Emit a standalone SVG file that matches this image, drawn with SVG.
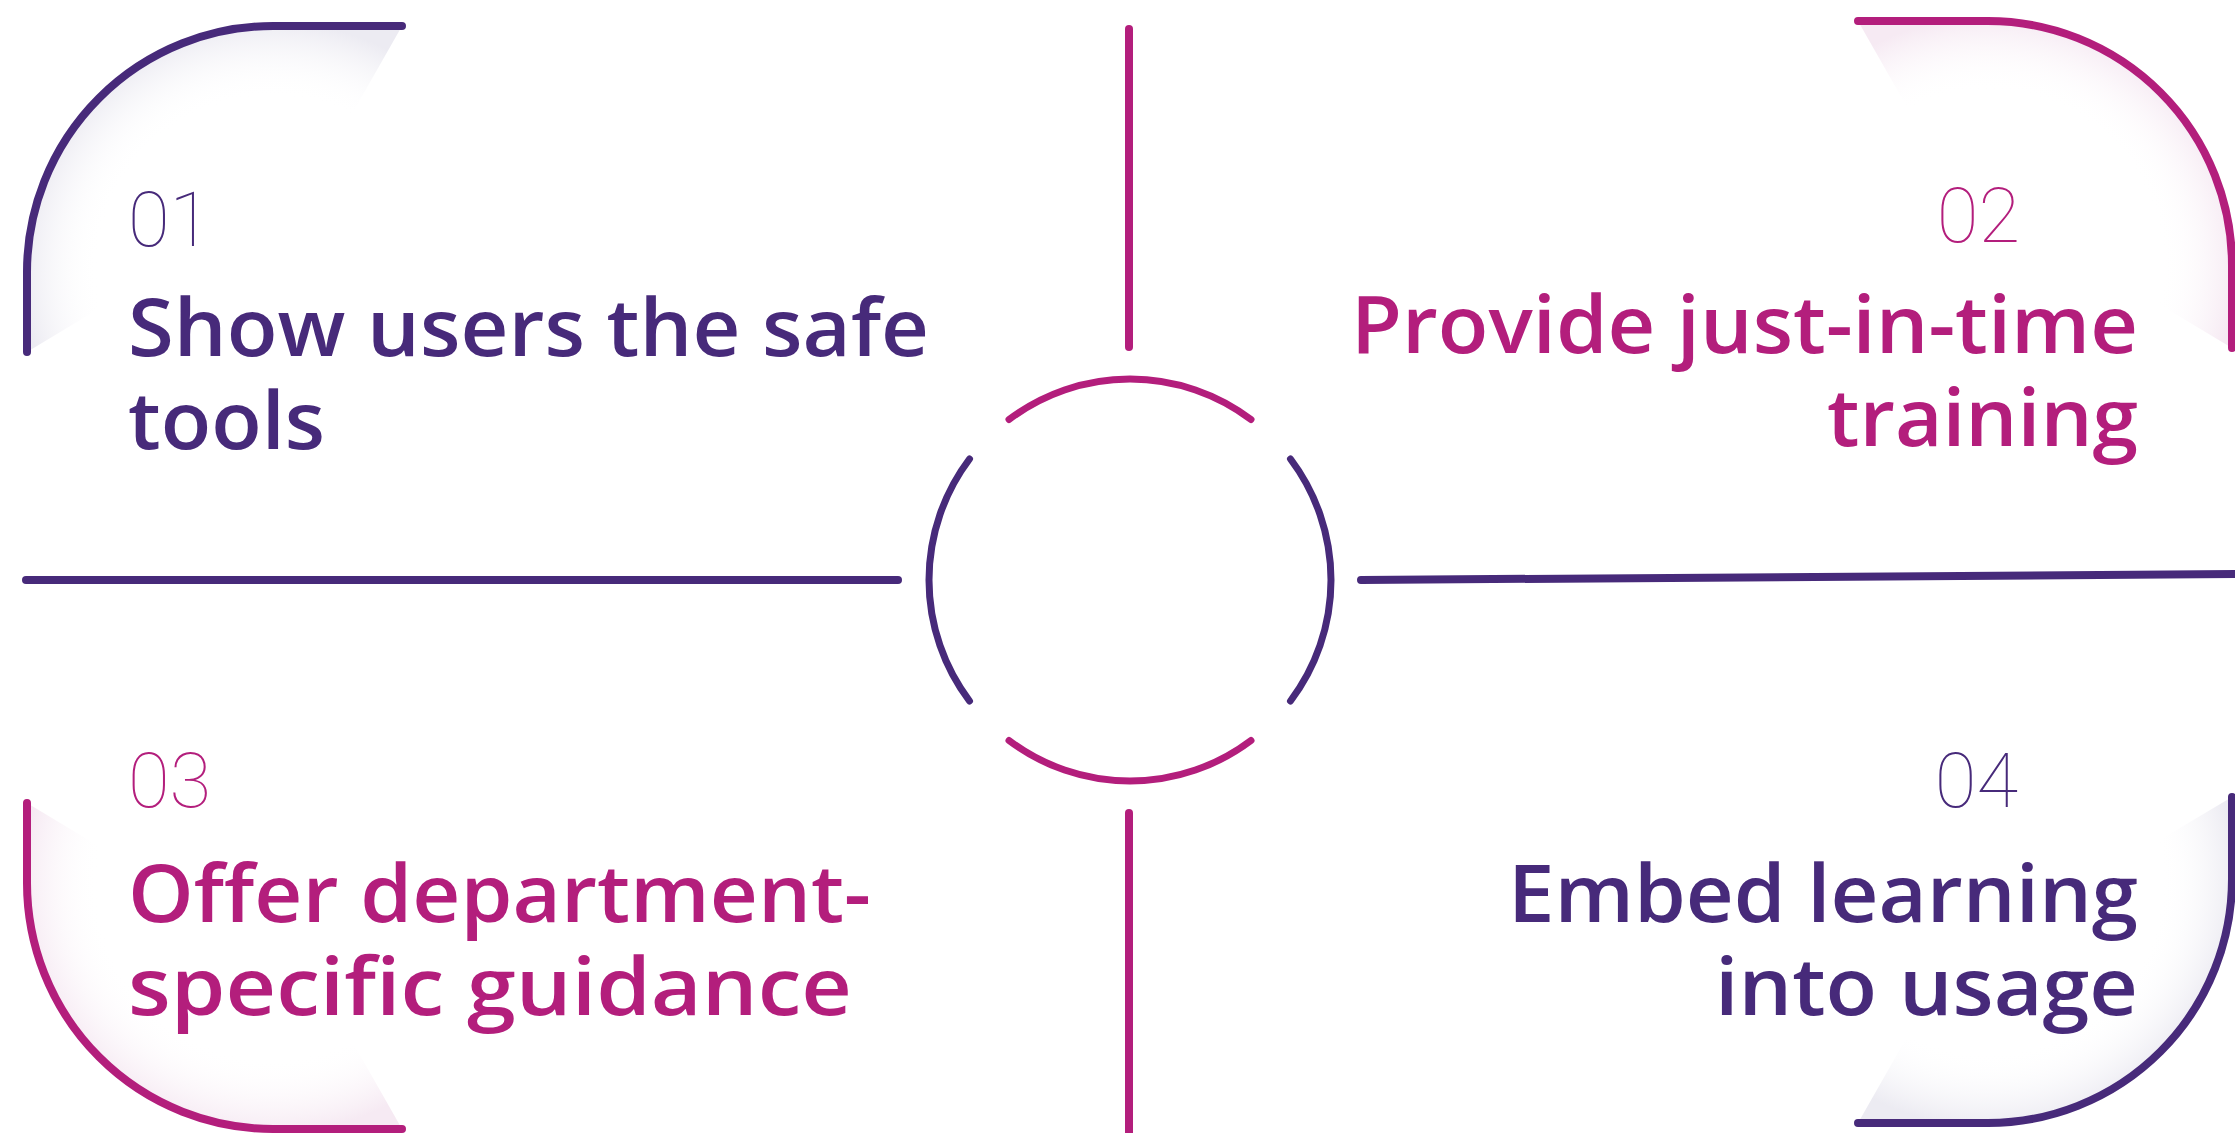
<svg xmlns="http://www.w3.org/2000/svg" width="2235" height="1133" viewBox="0 0 2235 1133">
  <style>
    .purple { stroke: #472a7a; }
    .magenta { stroke: #b31e7c; }
    .ln { fill: none; stroke-width: 8; stroke-linecap: round; }
    .arc { fill: none; stroke-width: 7; stroke-linecap: round; }
    .num { font-family: Roboto, Lato, "Open Sans", sans-serif; font-weight: 100; font-size: 76px; }
    .label { font-family: "Open Sans", "Liberation Sans", sans-serif; font-weight: 600; font-size: 79px; }
    .tp { fill: #472a7a; }
    .tm { fill: #b31e7c; }
  </style>
  <defs>
    <radialGradient id="gTL" gradientUnits="userSpaceOnUse" cx="273" cy="272" r="250">
      <stop offset="0" stop-color="#ffffff" stop-opacity="0"/>
      <stop offset="0.7" stop-color="#ffffff" stop-opacity="0"/>
      <stop offset="1" stop-color="#ecebf2" stop-opacity="1"/>
    </radialGradient>
    <radialGradient id="gTR" gradientUnits="userSpaceOnUse" cx="1988" cy="265" r="248">
      <stop offset="0" stop-color="#ffffff" stop-opacity="0"/>
      <stop offset="0.7" stop-color="#ffffff" stop-opacity="0"/>
      <stop offset="1" stop-color="#f6eaf3" stop-opacity="1"/>
    </radialGradient>
    <radialGradient id="gBL" gradientUnits="userSpaceOnUse" cx="273" cy="883" r="250">
      <stop offset="0" stop-color="#ffffff" stop-opacity="0"/>
      <stop offset="0.7" stop-color="#ffffff" stop-opacity="0"/>
      <stop offset="1" stop-color="#f6eaf3" stop-opacity="1"/>
    </radialGradient>
    <radialGradient id="gBR" gradientUnits="userSpaceOnUse" cx="1988" cy="879" r="248">
      <stop offset="0" stop-color="#ffffff" stop-opacity="0"/>
      <stop offset="0.7" stop-color="#ffffff" stop-opacity="0"/>
      <stop offset="1" stop-color="#ecebf2" stop-opacity="1"/>
    </radialGradient>
  </defs>
  <rect x="0" y="0" width="2235" height="1133" fill="#ffffff"/>

  <g id="connectors">
    <line class="ln magenta" x1="1129" y1="29" x2="1129" y2="347" stroke-width="7"/>
    <line class="ln magenta" x1="1129" y1="813" x2="1129" y2="1140" stroke-width="7"/>
    <line class="ln purple" x1="26" y1="580" x2="898" y2="580" stroke-width="7"/>
    <line class="ln purple" x1="1361" y1="580" x2="2240" y2="574" stroke-width="7"/>
  </g>

  <g id="hub">
    <path class="arc magenta" d="M1009,419.5 A201,201 0 0 1 1251,419.5"/>
    <path class="arc purple" d="M1290.5,459 A201,201 0 0 1 1290.5,701"/>
    <path class="arc magenta" d="M1251,740.5 A201,201 0 0 1 1009,740.5"/>
    <path class="arc purple" d="M969.5,701 A201,201 0 0 1 969.5,459"/>
  </g>

  <g id="node-01">
    <path d="M402,26 H273 A246,246 0 0 0 27,272 V352 L160,272 L262,272 Z" fill="url(#gTL)"/>
    <path class="ln purple" d="M402,26 H273 A246,246 0 0 0 27,272 V352"/>
    <text class="num tp" x="128" y="246">01</text>
    <text class="label tp"><tspan x="128" y="356" textLength="801" lengthAdjust="spacingAndGlyphs">Show users the safe</tspan><tspan x="128" y="449" textLength="197" lengthAdjust="spacingAndGlyphs">tools</tspan></text>
  </g>

  <g id="node-02">
    <path d="M1858,21 H1988 A244,244 0 0 1 2232,265 V348 L2094,265 L1997,265 Z" fill="url(#gTR)"/>
    <path class="ln magenta" d="M1858,21 H1988 A244,244 0 0 1 2232,265 V348"/>
    <text class="num tm" x="2020" y="242" text-anchor="end">02</text>
    <text class="label tm" text-anchor="end"><tspan x="2138" y="353" textLength="787" lengthAdjust="spacingAndGlyphs">Provide just-in-time</tspan><tspan x="2138" y="446" textLength="311" lengthAdjust="spacingAndGlyphs">training</tspan></text>
  </g>

  <g id="node-03">
    <path d="M27,803 V883 A246,246 0 0 0 273,1129 H402 L262,883 L160,883 Z" fill="url(#gBL)"/>
    <path class="ln magenta" d="M27,803 V883 A246,246 0 0 0 273,1129 H402"/>
    <text class="num tm" x="128" y="807">03</text>
    <text class="label tm"><tspan x="128" y="922" textLength="743" lengthAdjust="spacingAndGlyphs">Offer department-</tspan><tspan x="128" y="1015" textLength="724" lengthAdjust="spacingAndGlyphs">specific guidance</tspan></text>
  </g>

  <g id="node-04">
    <path d="M2232,797 V879 A244,244 0 0 1 1988,1123 H1858 L1997,879 L2094,879 Z" fill="url(#gBR)"/>
    <path class="ln purple" d="M2232,797 V879 A244,244 0 0 1 1988,1123 H1858"/>
    <text class="num tp" x="2018" y="807" text-anchor="end">04</text>
    <text class="label tp" text-anchor="end"><tspan x="2138" y="922" textLength="630" lengthAdjust="spacingAndGlyphs">Embed learning</tspan><tspan x="2138" y="1015" textLength="423" lengthAdjust="spacingAndGlyphs">into usage</tspan></text>
  </g>
</svg>
